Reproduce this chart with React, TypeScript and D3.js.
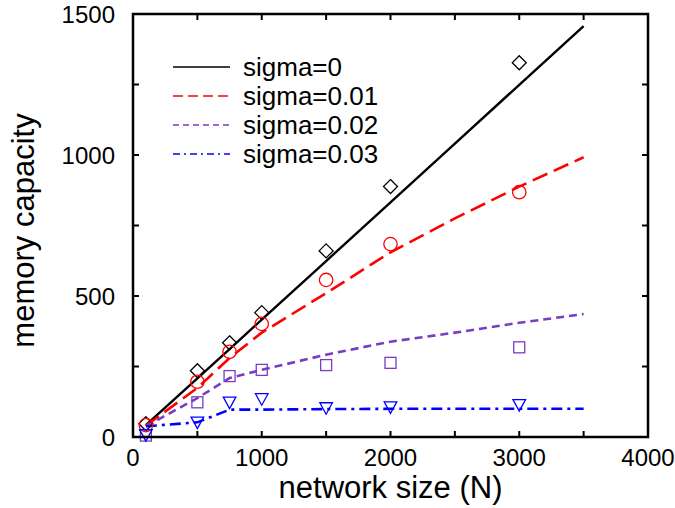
import React, {useRef, useEffect} from 'react';
import * as d3 from 'd3';

// measured points (network size N)
const pointN = [100, 500, 750, 1000, 1500, 2000, 3000];
const capSigma0 = [47, 235, 334, 441, 660, 888, 1327];
const capSigma001 = [42, 196, 302, 401, 557, 684, 868];
const capSigma002 = [5, 123, 216, 238, 255, 263, 318];
const capSigma003 = [7, 51, 122, 134, 102, 105, 113];

// theory curves
const curveN = [100, 500, 750, 1000, 1500, 2000, 2500, 3000, 3500];
const curveSigma0 = [42, 208, 312, 416, 624, 832, 1040, 1249, 1457];
const curveSigma001 = [40, 174, 280, 370, 510, 655, 775, 888, 992];
const curveSigma002 = [38, 138, 209, 238, 292, 338, 370, 405, 436];
const curveSigma003 = [38, 52, 97, 97, 99, 100, 100, 100, 100];

const legendLabels = ['sigma=0', 'sigma=0.01', 'sigma=0.02', 'sigma=0.03'];

const xTicks = [0, 1000, 2000, 3000, 4000];
const xMinorTicks = [500, 1500, 2500, 3500];
const yTicks = [0, 500, 1000, 1500];
const yMinorTicks = [250, 750, 1250];

const W = 675;
const H = 508;

export default function App() {
  const ref = useRef<SVGSVGElement>(null);

  useEffect(() => {
    const svg = d3.select(ref.current);
    svg.selectAll('*').remove();

    // plot frame
    const left = 133, right = 648, top = 14, bottom = 437;
    const x = d3.scaleLinear().domain([0, 4000]).range([left, right]);
    const y = d3.scaleLinear().domain([0, 1500]).range([bottom, top]);

    const font = 'Liberation Sans, Arial, Helvetica, sans-serif';

    const series = [
      {label: legendLabels[0], color: '#000000', dash: null, legendDash: null, width: 2.4, curve: curveSigma0, pts: capSigma0, mark: 'diamond'},
      {label: legendLabels[1], color: '#ff0000', dash: '16,7', legendDash: '10,5', width: 2.6, curve: curveSigma001, pts: capSigma001, mark: 'circle'},
      {label: legendLabels[2], color: '#7a3cc4', dash: '8,5', legendDash: '6,4', width: 2.6, curve: curveSigma002, pts: capSigma002, mark: 'square'},
      {label: legendLabels[3], color: '#0000ff', dash: '11,5,3,5', legendDash: '7,4,2,4', width: 2.6, curve: curveSigma003, pts: capSigma003, mark: 'triangle'},
    ];

    const line = d3.line<number>()
      .x((d, i) => x(curveN[i]))
      .y(d => y(d));

    // curves
    series.forEach(s => {
      svg.append('path')
        .attr('d', line(s.curve))
        .attr('fill', 'none')
        .attr('stroke', s.color)
        .attr('stroke-width', s.width)
        .attr('stroke-dasharray', s.dash);
    });

    // markers
    series.forEach(s => {
      const g = svg.append('g')
        .attr('fill', 'none')
        .attr('stroke', s.color)
        .attr('stroke-width', 1.3);
      s.pts.forEach((v, i) => {
        const cx = x(pointN[i]);
        const cy = y(v);
        if (s.mark === 'diamond') {
          g.append('path').attr('d', `M${cx},${cy - 7}L${cx + 7},${cy}L${cx},${cy + 7}L${cx - 7},${cy}Z`);
        } else if (s.mark === 'circle') {
          g.append('circle').attr('cx', cx).attr('cy', cy).attr('r', 6.7);
        } else if (s.mark === 'square') {
          g.append('rect').attr('x', cx - 5.5).attr('y', cy - 5.5).attr('width', 11).attr('height', 11);
        } else {
          g.append('path').attr('d', `M${cx - 6.3},${cy - 5.5}L${cx + 6.3},${cy - 5.5}L${cx},${cy + 6}Z`);
        }
      });
    });

    // frame
    svg.append('rect')
      .attr('x', left).attr('y', top)
      .attr('width', right - left).attr('height', bottom - top)
      .attr('fill', 'none')
      .attr('stroke', '#000')
      .attr('stroke-width', 2.5);

    // ticks, inward on all sides
    const tickLen = 6;
    const ticks = svg.append('g').attr('stroke', '#000').attr('stroke-width', 2);
    [...xTicks, ...xMinorTicks].forEach(t => {
      ticks.append('line').attr('x1', x(t)).attr('x2', x(t)).attr('y1', bottom).attr('y2', bottom - tickLen);
      ticks.append('line').attr('x1', x(t)).attr('x2', x(t)).attr('y1', top).attr('y2', top + tickLen);
    });
    [...yTicks, ...yMinorTicks].forEach(t => {
      ticks.append('line').attr('y1', y(t)).attr('y2', y(t)).attr('x1', left).attr('x2', left + tickLen);
      ticks.append('line').attr('y1', y(t)).attr('y2', y(t)).attr('x1', right).attr('x2', right - tickLen);
    });

    // tick labels
    svg.append('g').selectAll('text')
      .data(xTicks)
      .enter()
      .append('text')
      .attr('x', d => x(d))
      .attr('y', 466)
      .attr('text-anchor', 'middle')
      .attr('font-family', font)
      .attr('font-size', 24)
      .text(d => d);

    svg.append('g').selectAll('text')
      .data(yTicks)
      .enter()
      .append('text')
      .attr('x', 115)
      .attr('y', d => y(d) + 8.5)
      .attr('text-anchor', 'end')
      .attr('font-family', font)
      .attr('font-size', 24)
      .text(d => d);

    // axis titles
    svg.append('text')
      .attr('x', (left + right) / 2)
      .attr('y', 498)
      .attr('text-anchor', 'middle')
      .attr('font-family', font)
      .attr('font-size', 31)
      .text('network size (N)');

    svg.append('text')
      .attr('transform', `translate(34,${(top + bottom) / 2 + 5}) rotate(-90)`)
      .attr('text-anchor', 'middle')
      .attr('font-family', font)
      .attr('font-size', 31)
      .text('memory capacity');

    // legend
    series.forEach((s, i) => {
      const ly = 67 + i * 29;
      svg.append('line')
        .attr('x1', 173).attr('x2', 230)
        .attr('y1', ly).attr('y2', ly)
        .attr('stroke', s.color)
        .attr('stroke-width', 1.4)
        .attr('stroke-dasharray', s.legendDash);
      svg.append('text')
        .attr('x', 243)
        .attr('y', ly + 9)
        .attr('font-family', font)
        .attr('font-size', 26)
        .text(s.label);
    });
  }, []);

  return (
    <div style={{position: 'absolute', top: 0, left: 0}}>
      <svg ref={ref} width={W} height={H} style={{display: 'block', background: '#fff'}}></svg>
    </div>
  );
}
